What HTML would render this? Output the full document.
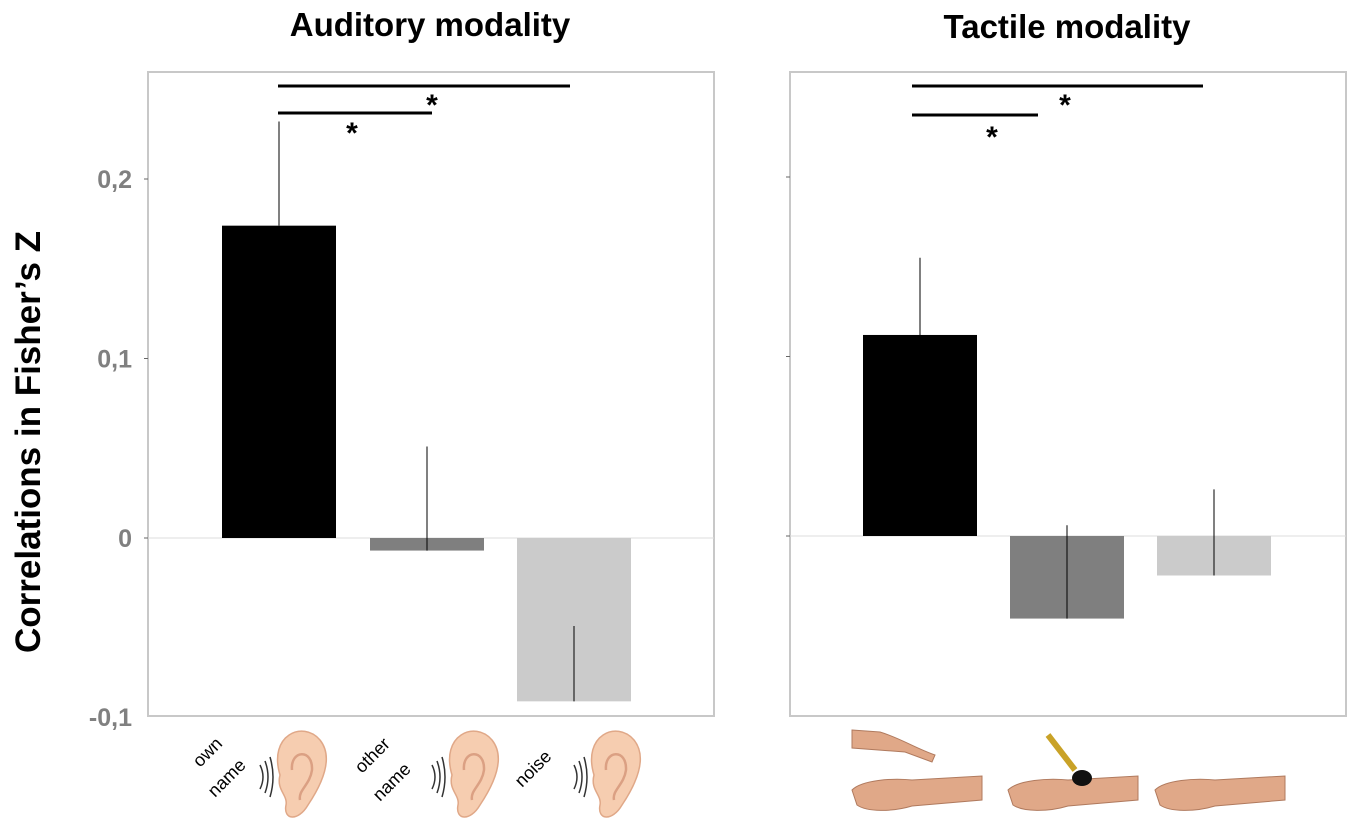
<!DOCTYPE html>
<html><head><meta charset="utf-8"><style>
body{margin:0;background:#fff;width:1350px;height:832px;overflow:hidden;font-family:"Liberation Sans",sans-serif}
</style></head><body>
<svg id="chart" width="1350" height="832" xmlns="http://www.w3.org/2000/svg" font-family="Liberation Sans, sans-serif">
<text x="430" y="36" font-size="33" font-weight="bold" text-anchor="middle">Auditory modality</text>
<text x="1067" y="38" font-size="33" font-weight="bold" text-anchor="middle">Tactile modality</text>
<text transform="translate(40,442) rotate(-90)" font-size="35" font-weight="bold" text-anchor="middle">Correlations in Fisher’s Z</text>
<g id="plots"></g>
<g id="icons"></g>
</svg>
<script>
const conditions = ["own name","other name","noise"];
const auditoryValues = [0.174, -0.007, -0.091];
const auditoryErrHigh = [0.232, 0.051, -0.049];
const auditoryErrLow = [0.174, -0.007, -0.091];
const tactileValues = [0.112, -0.046, -0.022];
const tactileErrHigh = [0.155, 0.006, 0.026];
const tactileErrLow = [0.112, -0.046, -0.022];
const tickValues = [-0.1, 0, 0.1, 0.2];
const tickLabels = ["-0,1","0","0,1","0,2"];
const colors = ["#000","#7f7f7f","#cbcbcb"];
const NS="http://www.w3.org/2000/svg";
const g=document.getElementById('plots');
function mk(tag,attrs,parent){const e=document.createElementNS(NS,tag);for(const k in attrs)e.setAttribute(k,attrs[k]);(parent||g).appendChild(e);return e;}
function panel(name,x0,x1,zeroY,vals,hi,lo,barX,labels,sig){
  const y=v=>zeroY-v*1795;
  const frame=mk('rect',{x:x0,y:72,width:x1-x0,height:644,fill:'none',stroke:'#c8c8c8','stroke-width':2});
  
  
  const zl=mk('line',{x1:x0,x2:x1,y1:zeroY,y2:zeroY,stroke:'#ddd','stroke-width':1});
  
  
  tickValues.forEach((t,i)=>{
    if(y(t)<80||y(t)>712)return;
    const tk=mk('line',{x1:x0-4,x2:x0,y1:y(t),y2:y(t),stroke:'#666'});
    
    
    if(labels){
      const tx=mk('text',{x:x0-16,y:y(t)+9,'font-size':25,'font-weight':'bold',fill:'#808080','text-anchor':'end'});
      tx.textContent=tickLabels[i];
      
      
    }
  });
  if(labels){const t=mk('text',{x:x0-16,y:717+9,'font-size':25,'font-weight':'bold',fill:'#808080','text-anchor':'end'});t.textContent="-0,1";
    
    }
  vals.forEach((v,i)=>{
    const bx=barX[i];
    const top=Math.min(y(v),zeroY),h=Math.abs(y(v)-zeroY);
    const r=mk('rect',{x:bx,y:top,width:114,height:Math.max(h,1),fill:colors[i]});
    
    
    const e=mk('line',{x1:bx+57,x2:bx+57,y1:y(hi[i]),y2:y(lo[i]),stroke:'#000','stroke-width':1});
    
    
  });
  sig.forEach(s=>{
    const l=mk('line',{x1:s[0],x2:s[1],y1:s[2],y2:s[2],stroke:'#000','stroke-width':3});
    
    
    const st=mk('text',{x:s[3],y:s[4],'font-size':30,'font-weight':'bold','text-anchor':'middle'});
    st.textContent='*';
    
    
  });
}
panel('auditory',148,714,538,auditoryValues,auditoryErrHigh,auditoryErrLow,[222,370,517],true,[[278,570,86,432,115],[278,432,113,352,143]]);
panel('tactile',790,1346,536,tactileValues,tactileErrHigh,tactileErrLow,[863,1010,1157],false,[[912,1203,86,1065,115],[912,1038,115,992,147]]);

const ic=document.getElementById('icons');
function ear(cx,name){
  const grp=mk('g',{},ic);
  
  
  mk('path',{d:`M${cx-18},${775} C${cx-30},735 ${cx+5},720 ${cx+22},740 C${cx+38},760 ${cx+20},790 ${cx+10},805 C${cx},822 ${cx-15},820 ${cx-12},805 C${cx-10},795 ${cx-22},790 ${cx-18},775 Z`,fill:'#f6cdb0',stroke:'#e0a888','stroke-width':1.5},grp);
  mk('path',{d:`M${cx-6},770 C${cx-8},750 ${cx+15},748 ${cx+14},770 C${cx+12},785 ${cx},790 ${cx+2},800`,fill:'none',stroke:'#dba083','stroke-width':2.5},grp);
  for(let k=0;k<3;k++)mk('path',{d:`M${cx-38+k*5},${765-k*4} q6,${12+k*4} 0,${24+k*8}`,fill:'none',stroke:'#333','stroke-width':1.5},grp);
}
ear(298,'own-name-ear-icon');ear(470,'other-name-ear-icon');ear(612,'noise-ear-icon');
function lbl(t,x,y){const e=mk('text',{x:x,y:y,'font-size':18,transform:`rotate(-45 ${x} ${y})`},ic);e.textContent=t;
  
  }
lbl('own',200,768);lbl('name',215,798);lbl('other',362,774);lbl('name',380,802);lbl('noise',522,788);
function arm(x,name){
  const grp=mk('g',{},ic);
  
  
  mk('path',{d:`M${x},790 C${x+10},780 ${x+40},778 ${x+60},780 L${x+130},776 L${x+130},800 L${x+60},806 C${x+40},812 ${x+15},812 ${x+5},805 Z`,fill:'#e0a888',stroke:'#b07a5e'},grp);
}
arm(852,'touch-arm-icon');arm(1008,'brush-arm-icon');arm(1155,'no-touch-arm-icon');
const hand=mk('path',{d:'M852,730 L880,732 C900,738 915,748 935,755 L932,762 L905,752 L852,748 Z',fill:'#e0a888',stroke:'#b07a5e'},ic);


const brush=mk('line',{x1:1048,y1:735,x2:1075,y2:770,stroke:'#c9a227','stroke-width':6},ic);


const bh=mk('ellipse',{cx:1082,cy:778,rx:10,ry:8,fill:'#111'},ic);


</script>
</body></html>
